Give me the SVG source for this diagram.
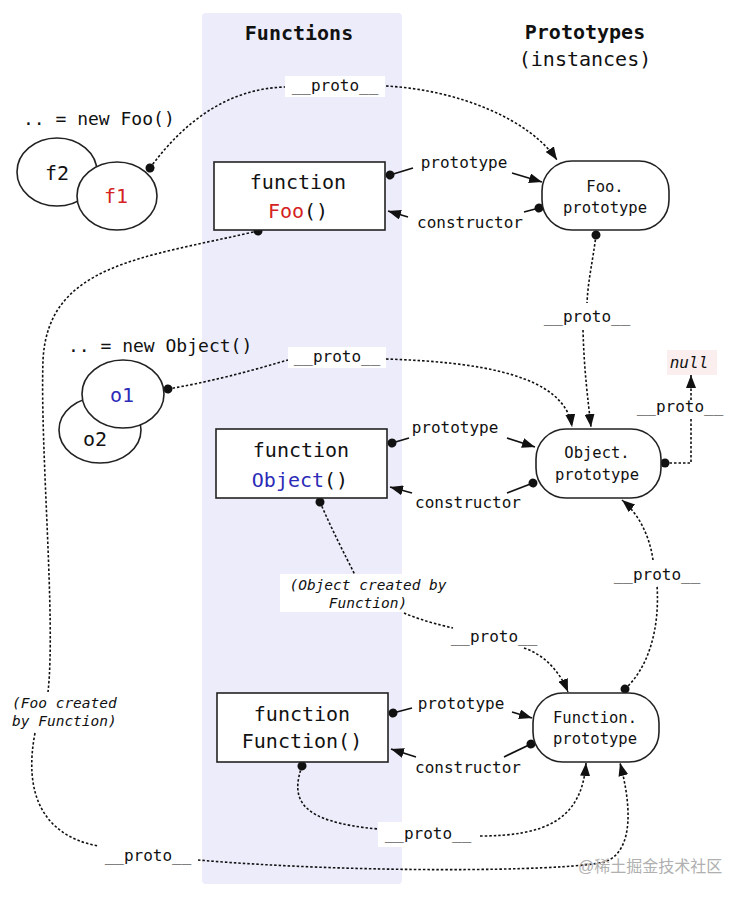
<svg xmlns="http://www.w3.org/2000/svg" width="740" height="900" viewBox="0 0 740 900">
<defs>
<marker id="arr" markerUnits="userSpaceOnUse" markerWidth="14" markerHeight="10" refX="13" refY="5" orient="auto">
<path d="M0,0 L13,5 L0,10 z" fill="#111"/>
</marker>
<marker id="dot" markerUnits="userSpaceOnUse" markerWidth="10" markerHeight="10" refX="5" refY="5" orient="auto">
<circle cx="5" cy="5" r="4.5" fill="#111"/>
</marker>
<style>
.mono{font-family:"DejaVu Sans Mono","Liberation Mono",monospace;fill:#111}
.t{font-size:20px}
.lb{font-size:16px}
.pt{font-size:15.5px}
.it{font-size:14.5px;font-style:italic}
.box{fill:#fff;stroke:#222;stroke-width:1.6}
.dsh{fill:none;stroke:#111;stroke-width:1.6;stroke-dasharray:2.5,2}
.sol{fill:none;stroke:#111;stroke-width:1.8}
</style>
</defs>
<rect x="202" y="13" width="200" height="871" rx="4" fill="#ececfb"/>
<g id="titles">
<text class="mono t" x="299" y="40" text-anchor="middle" font-weight="bold">Functions</text>
<text class="mono t" x="585" y="39" text-anchor="middle" font-weight="bold">Prototypes</text>
<text class="mono t" x="585" y="66" text-anchor="middle">(instances)</text>
<text class="mono" x="23" y="125" font-size="18">.. = new Foo()</text>
<text class="mono" x="68" y="352" font-size="18">.. = new Object()</text>
</g>
<g id="connectors">
<!-- f1 __proto__ -> Foo.prototype -->
<path class="dsh" d="M150,168 C185,120 230,88 286,87" marker-start="url(#dot)"/>
<path class="dsh" d="M386,86 C460,90 530,120 557,160" marker-end="url(#arr)"/>
<!-- Foo.prototype __proto__ -> Object.prototype -->
<path class="dsh" d="M596,235 C593,260 588,280 587,303" marker-start="url(#dot)"/>
<path class="dsh" d="M583,330 C584,370 588,400 591,427" marker-end="url(#arr)"/>
<!-- o1 __proto__ -> Object.prototype -->
<path class="dsh" d="M168,389 C220,380 260,368 288,360" marker-start="url(#dot)"/>
<path class="dsh" d="M386,359 C480,362 565,375 572,427" marker-end="url(#arr)"/>
<!-- Object.prototype -> null -->
<path class="dsh" d="M665,463 L691,463 L691,419" marker-start="url(#dot)"/>
<path class="dsh" d="M691,400 L691,375" marker-end="url(#arr)"/>
<!-- Foo prototype / constructor -->
<path class="sol" d="M390,175 L413,168" marker-start="url(#dot)"/>
<path class="sol" d="M512,173 L542,182" marker-end="url(#arr)"/>
<path class="sol" d="M539,208 L524,212" marker-start="url(#dot)"/>
<path class="sol" d="M408,217 L388,211" marker-end="url(#arr)"/>
<!-- Object prototype / constructor -->
<path class="sol" d="M392,443 L409,438" marker-start="url(#dot)"/>
<path class="sol" d="M507,438 L535,447" marker-end="url(#arr)"/>
<path class="sol" d="M533,483 L507,493" marker-start="url(#dot)"/>
<path class="sol" d="M412,493 L390,487" marker-end="url(#arr)"/>
<!-- Function prototype / constructor -->
<path class="sol" d="M393,713 L412,708" marker-start="url(#dot)"/>
<path class="sol" d="M512,712 L532,718" marker-end="url(#arr)"/>
<path class="sol" d="M531,744 L504,757" marker-start="url(#dot)"/>
<path class="sol" d="M416,757 L391,749" marker-end="url(#arr)"/>
<!-- Object() __proto__ -> Function.prototype -->
<path class="dsh" d="M320,502 C332,530 345,555 355,575" marker-start="url(#dot)"/>
<path class="dsh" d="M404,613 C420,620 440,625 453,628"/>
<path class="dsh" d="M524,648 C545,655 560,672 568,692" marker-end="url(#arr)"/>
<!-- Function.prototype __proto__ -> Object.prototype -->
<path class="dsh" d="M625,689 C648,668 660,630 657,585" marker-start="url(#dot)"/>
<path class="dsh" d="M653,560 C650,538 640,515 622,500" marker-end="url(#arr)"/>
<!-- Function() __proto__ -> Function.prototype -->
<path class="dsh" d="M302,766 C290,800 300,822 378,829" marker-start="url(#dot)"/>
<path class="dsh" d="M480,836 C545,836 582,820 586,763" marker-end="url(#arr)"/>
<!-- Foo() __proto__ -> Function.prototype -->
<path class="dsh" d="M258,231 C140,258 48,265 43,360 C40,450 56,620 48,692" marker-start="url(#dot)"/>
<path class="dsh" d="M35,733 C24,790 40,835 98,846"/>
<path class="dsh" d="M198,860 C350,873 560,872 605,862 C636,850 630,800 620,763" marker-end="url(#arr)"/>
</g>
<g id="labels">
<rect x="285" y="76" width="100" height="21" fill="#fff"/>
<text class="mono lb" x="335" y="91" text-anchor="middle">__proto__</text>
<rect x="288" y="347" width="98" height="21" fill="#fff"/>
<text class="mono lb" x="337" y="362" text-anchor="middle">__proto__</text>
<text class="mono lb" x="587" y="322" text-anchor="middle">__proto__</text>
<text class="mono lb" x="680" y="412" text-anchor="middle">__proto__</text>
<text class="mono lb" x="494" y="642" text-anchor="middle">__proto__</text>
<text class="mono lb" x="657" y="580" text-anchor="middle">__proto__</text>
<rect x="378" y="822" width="100" height="25" fill="#fff"/>
<text class="mono lb" x="428" y="839" text-anchor="middle">__proto__</text>
<text class="mono lb" x="148" y="861" text-anchor="middle">__proto__</text>
<text class="mono lb" x="464" y="168" text-anchor="middle">prototype</text>
<text class="mono lb" x="470" y="228" text-anchor="middle">constructor</text>
<text class="mono lb" x="455" y="433" text-anchor="middle">prototype</text>
<text class="mono lb" x="468" y="508" text-anchor="middle">constructor</text>
<text class="mono lb" x="461" y="709" text-anchor="middle">prototype</text>
<text class="mono lb" x="468" y="773" text-anchor="middle">constructor</text>
<rect x="280" y="574" width="171" height="38" fill="#fff"/>
<text class="mono it" x="368" y="590" text-anchor="middle">(Object created by</text>
<text class="mono it" x="368" y="608" text-anchor="middle">Function)</text>
<text class="mono it" x="12" y="708">(Foo created</text>
<text class="mono it" x="12" y="726">by Function)</text>
</g>
<g id="null">
<rect x="667" y="350" width="50" height="25" fill="#fbeeee"/>
<text class="mono lb" x="689" y="368" text-anchor="middle" font-style="italic">null</text>
</g>
<g id="f2">
<ellipse class="box" cx="57" cy="172" rx="40" ry="34"/>
<text class="mono t" x="57" y="180" text-anchor="middle">f2</text>
</g>
<g id="f1">
<ellipse class="box" cx="117" cy="196" rx="40" ry="34"/>
<text class="mono t" x="116" y="203" text-anchor="middle" fill="#d42222" style="fill:#d42222">f1</text>
</g>
<g id="o2">
<ellipse class="box" cx="100" cy="430" rx="41" ry="33"/>
<text class="mono t" x="95" y="446" text-anchor="middle">o2</text>
</g>
<g id="o1">
<ellipse class="box" cx="123" cy="394" rx="41" ry="34"/>
<text class="mono t" x="122" y="402" text-anchor="middle" style="fill:#2b2bb8">o1</text>
</g>
<g id="Foo">
<rect class="box" x="214" y="162" width="171" height="68"/>
<text class="mono t" x="298" y="189" text-anchor="middle">function</text>
<text class="mono t" x="298" y="218" text-anchor="middle"><tspan style="fill:#d42222">Foo</tspan>()</text>
</g>
<g id="Object">
<rect class="box" x="216" y="429" width="171" height="69"/>
<text class="mono t" x="301" y="457" text-anchor="middle">function</text>
<text class="mono t" x="300" y="487" text-anchor="middle"><tspan style="fill:#2b2bb8">Object</tspan>()</text>
</g>
<g id="Function">
<rect class="box" x="217" y="693" width="171" height="69"/>
<text class="mono t" x="302" y="721" text-anchor="middle">function</text>
<text class="mono t" x="302" y="748" text-anchor="middle">Function()</text>
</g>
<g id="FooPrototype">
<rect class="box" x="542" y="161" width="127" height="69" rx="30"/>
<text class="mono pt" x="605" y="192" text-anchor="middle">Foo.</text>
<text class="mono pt" x="605" y="213" text-anchor="middle">prototype</text>
</g>
<g id="ObjectPrototype">
<rect class="box" x="536" y="429" width="125" height="69" rx="30"/>
<text class="mono pt" x="597" y="458" text-anchor="middle">Object.</text>
<text class="mono pt" x="597" y="480" text-anchor="middle">prototype</text>
</g>
<g id="FunctionPrototype">
<rect class="box" x="533" y="693" width="126" height="69" rx="30"/>
<text class="mono pt" x="595" y="723" text-anchor="middle">Function.</text>
<text class="mono pt" x="595" y="744" text-anchor="middle">prototype</text>
</g>
<text x="578" y="872" font-size="16" fill="#b0b0b0" font-family="'Liberation Sans','Noto Sans CJK SC',sans-serif">@稀土掘金技术社区</text>
</svg>
